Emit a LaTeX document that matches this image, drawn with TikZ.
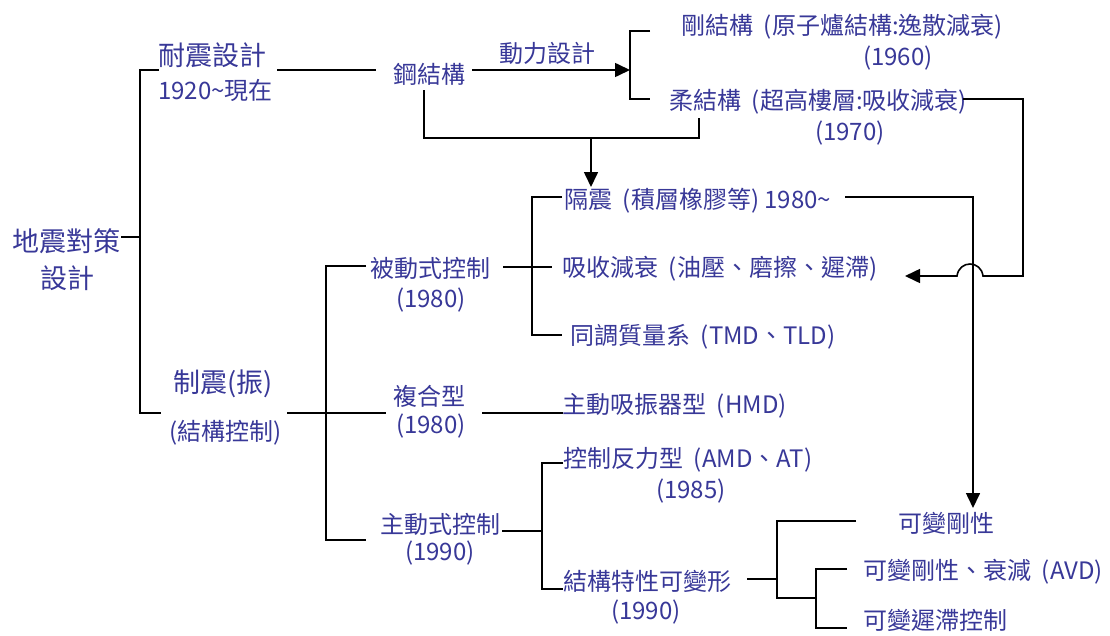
\documentclass[tikz,border=0pt]{standalone}
\usepackage{fontspec}
\setmainfont{Noto Sans CJK TC}
\usetikzlibrary{arrows.meta}
\definecolor{txt}{RGB}{56,56,152}
\newcommand\tgap{\hspace{0.45em}}
\begin{document}
\begin{tikzpicture}[x=1pt,y=-1pt,
  lbl/.style={text=txt,inner sep=0pt,anchor=west,font=\fontsize{24}{28}\selectfont},
  big/.style={lbl,font=\fontsize{27}{32}\selectfont},
  ln/.style={line width=1.6pt,line join=miter},
  arr/.style={ln,-{Triangle[length=15pt,width=14pt]}}]
\useasboundingbox[fill=white] (0,0) rectangle (1110,635);
% ---- text nodes ----
\node[big] (root) at (12,241) {地震對策};
\node[big,anchor=center] (root2) at (67,278) {設計};
\node[big] (tai) at (158,55) {耐震設計};
\node[lbl] (taiy) at (158,90) {1920\textasciitilde 現在};
\node[lbl] (steel) at (393,74) {鋼結構};
\node[lbl] (dyn) at (499,53) {動力設計};
\node[lbl] (rigid) at (681,27) {剛結構\tgap(原子爐結構:逸散減衰)};
\node[lbl] (rigidy) at (863,58) {(1960)};
\node[lbl] (soft) at (669,102) {柔結構\tgap(超高樓層:吸收減衰)};
\node[lbl] (softy) at (815,133) {(1970)};
\node[lbl] (iso) at (564,201) {隔震\tgap(積層橡膠等) 1980\textasciitilde};
\node[lbl] (abs) at (562,269) {吸收減衰\tgap(油壓、磨擦、遲滯)};
\node[lbl] (tmd) at (570,337) {同調質量系\tgap(TMD、TLD)};
\node[lbl] (pas) at (370,268) {被動式控制};
\node[lbl] (pasy) at (396,300) {(1980)};
\node[big] (vib) at (173,384) {制震(振)};
\node[lbl] (viby) at (169,433) {(結構控制)};
\node[lbl] (comp) at (393,396) {複合型};
\node[lbl] (compy) at (396,426) {(1980)};
\node[lbl] (hmd) at (562,406) {主動吸振器型\tgap(HMD)};
\node[lbl] (act) at (380,524) {主動式控制};
\node[lbl] (acty) at (405,553) {(1990)};
\node[lbl] (amd) at (563,460) {控制反力型\tgap(AMD、AT)};
\node[lbl] (amdy) at (656,491) {(1985)};
\node[lbl] (var) at (563,581) {結構特性可變形};
\node[lbl] (vary) at (611,612) {(1990)};
\node[lbl] (vs) at (898,523) {可變剛性};
\node[lbl] (avd) at (863,572) {可變剛性、衰減\tgap(AVD)};
\node[lbl] (hys) at (863,620) {可變遲滯控制};
% ---- junction coordinates ----
\coordinate (r1) at (121,237); \coordinate (r2) at (140,237);
\coordinate (t1) at (159,70); \coordinate (t2) at (140,70);
\coordinate (t3) at (140,413); \coordinate (t4) at (161,413);
\coordinate (a1) at (277,70); \coordinate (a2) at (376,70);
\coordinate (b1) at (472,70); \coordinate (b2) at (630,70);
\coordinate (k1) at (650,31); \coordinate (k2) at (630,31);
\coordinate (k3) at (630,99); \coordinate (k4) at (650,99);
\coordinate (s1) at (424,90); \coordinate (s2) at (424,138);
\coordinate (s3) at (699,138); \coordinate (s4) at (699,118);
\coordinate (d1) at (591,138); \coordinate (d2) at (591,187);
\coordinate (f1) at (963,99); \coordinate (f2) at (1023,99);
\coordinate (f3) at (1023,276); \coordinate (f4) at (983,276);
\coordinate (f5) at (957,276); \coordinate (f6) at (905,276);
\coordinate (g1) at (845,197); \coordinate (g2) at (973,197);
\coordinate (g3) at (973,508);
\coordinate (p1) at (562,197); \coordinate (p2) at (532,197);
\coordinate (p3) at (532,335); \coordinate (p4) at (562,335);
\coordinate (p5) at (503,267); \coordinate (p6) at (552,267);
\coordinate (q1) at (366,266); \coordinate (q2) at (326,266);
\coordinate (q3) at (326,540); \coordinate (q4) at (366,540);
\coordinate (m1) at (287,413); \coordinate (m2) at (386,413);
\coordinate (h1) at (482,413); \coordinate (h2) at (563,413);
\coordinate (u1) at (502,531); \coordinate (u2) at (542,531);
\coordinate (u3) at (563,463); \coordinate (u4) at (542,463);
\coordinate (u5) at (542,589); \coordinate (u6) at (563,589);
\coordinate (v1) at (747,579); \coordinate (v2) at (777,579);
\coordinate (v3) at (856,521); \coordinate (v4) at (777,521);
\coordinate (v5) at (777,598); \coordinate (v6) at (816,598);
\coordinate (w1) at (847,569); \coordinate (w2) at (816,569);
\coordinate (w3) at (816,628); \coordinate (w4) at (847,628);
% ---- connectors ----
\draw[ln] (r1) -- (r2);
\draw[ln] (t1) -- (t2) -- (t3) -- (t4);
\draw[ln] (a1) -- (a2);
\draw[arr] (b1) -- (b2);
\draw[ln] (k1) -- (k2) -- (k3) -- (k4);
\draw[ln] (s1) -- (s2) -- (s3) -- (s4);
\draw[arr] (d1) -- (d2);
\draw[arr] (f1) -- (f2) -- (f3) -- (f4) .. controls (981,260) and (959,260) .. (f5) -- (f6);
\draw[arr] (g1) -- (g2) -- (g3);
\draw[ln] (p1) -- (p2) -- (p3) -- (p4);
\draw[ln] (p5) -- (p6);
\draw[ln] (q1) -- (q2) -- (q3) -- (q4);
\draw[ln] (m1) -- (m2);
\draw[ln] (h1) -- (h2);
\draw[ln] (u1) -- (u2);
\draw[ln] (u3) -- (u4) -- (u5) -- (u6);
\draw[ln] (v1) -- (v2);
\draw[ln] (v3) -- (v4) -- (v5) -- (v6);
\draw[ln] (w1) -- (w2) -- (w3) -- (w4);
\end{tikzpicture}
\end{document}
